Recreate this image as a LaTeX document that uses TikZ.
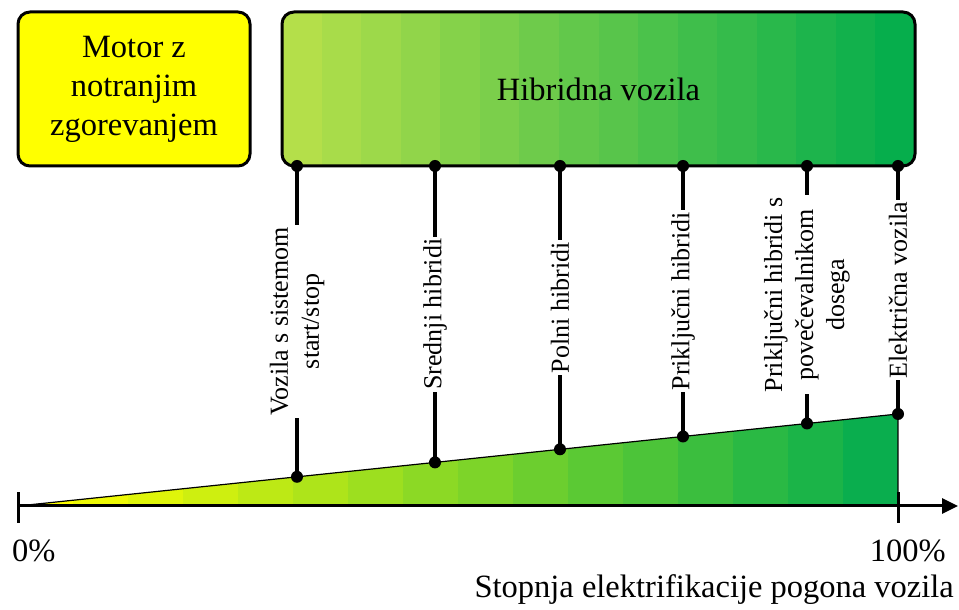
\documentclass[tikz,border=0pt]{standalone}
\usepackage{fontspec}
\setmainfont{Liberation Serif}
\usetikzlibrary{arrows.meta,calc}
\definecolor{triA}{HTML}{FFFF00}
\definecolor{triB}{HTML}{0AAE4E}
\definecolor{boxA}{HTML}{B4DF4A}
\definecolor{boxB}{HTML}{06AE4C}
\begin{document}
\begin{tikzpicture}[x=1pt,y=1pt,
  bigbox/.style={draw=black, line width=3pt, rounded corners=12pt,
    minimum height=154pt, inner sep=0pt, align=center,
    font=\fontsize{32.5}{39}\selectfont},
  dot/.style={circle, fill=black, minimum size=12pt, inner sep=0pt},
  conn/.style={line width=4pt},
  lbl/.style={rotate=90, fill=white, inner xsep=2pt, inner ysep=1pt,
    align=center, font=\fontsize{26}{31}\selectfont},
  axisline/.style={line width=3pt, -{Triangle[length=16pt,width=15pt]}},
  tick/.style={line width=3pt},
  axlabel/.style={font=\fontsize{32.5}{39}\selectfont, inner sep=0pt}]
\useasboundingbox (0,0) rectangle (959,610);

% stepped green wedge under the axis
\begin{scope}
  \clip (18,104) -- (898,196) -- (898,104) -- cycle;
  \foreach \i in {0,...,15}{
    \pgfmathtruncatemacro\pc{round(100*\i/15)}
    \fill[triB!\pc!triA] (18+55*\i,100) rectangle (18+55*\i+55.6,200);
  }
\end{scope}
\draw[line width=1.2pt] (18,104) -- (898,196) -- (898,104);

% axis with end ticks
\coordinate (o) at (18,104);
\coordinate (e) at (958,104);
\draw[axisline] (o) -- (e);
\draw[tick] (18,87) -- (18,118);
\draw[tick] (898,87) -- (898,118);
\node[axlabel, anchor=base west] (p0) at (12,48) {0\%};
\node[axlabel, anchor=base east] (p100) at (946,48) {100\%};
\node[axlabel, anchor=base east] (xl) at (954,12) {Stopnja elektrifikacije pogona vozila};

% combustion engine box
\node[bigbox, fill=triA, minimum width=232pt] (ice) at (134,521)
  {Motor z\\notranjim\\zgorevanjem};

% hybrid box with stepped gradient
\begin{scope}
  \clip[rounded corners=12pt] (282,444) rectangle (915,598);
  \foreach \i in {0,...,15}{
    \pgfmathtruncatemacro\pc{round(100*\i/15)}
    \fill[boxB!\pc!boxA] (282+39.5625*\i,440) rectangle (282+39.5625*\i+40.1,602);
  }
\end{scope}
\node[bigbox, minimum width=633pt] (hyb) at (598.5,521) {Hibridna vozila};

% category markers
\node[dot] (t1) at (297,444) {};
\node[dot] (t2) at (435,444) {};
\node[dot] (t3) at (560,444) {};
\node[dot] (t4) at (683,444) {};
\node[dot] (t5) at (807,444) {};
\node[dot] (t6) at (898,444) {};
\node[dot] (b1) at (297,133.2) {};
\node[dot] (b2) at (435,147.6) {};
\node[dot] (b3) at (560,160.7) {};
\node[dot] (b4) at (683,173.5) {};
\node[dot] (b5) at (807,186.5) {};
\node[dot] (b6) at (898,196) {};

\draw[conn] (t1.center) -- node[lbl] (l1) {Vozila s sistemom\\start/stop} (b1.center);
\draw[conn] (t2.center) -- node[lbl] (l2) {Srednji hibridi} (b2.center);
\draw[conn] (t3.center) -- node[lbl] (l3) {Polni hibridi} (b3.center);
\draw[conn] (t4.center) -- node[lbl] (l4) {Priključni hibridi} (b4.center);
\draw[conn] (t5.center) -- node[lbl] (l5) {Priključni hibridi s\\povečevalnikom\\dosega} (b5.center);
\draw[conn] (t6.center) -- node[lbl] (l6) {Električna vozila} (b6.center);
\end{tikzpicture}
\end{document}
